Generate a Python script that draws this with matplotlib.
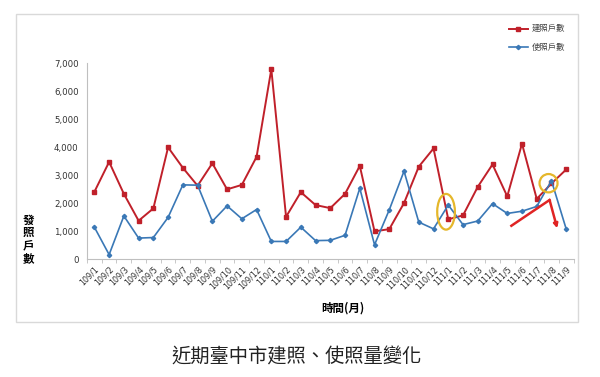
import matplotlib
matplotlib.use("Agg")
import matplotlib.pyplot as plt
from matplotlib.patches import Ellipse, Rectangle
from matplotlib.ticker import FuncFormatter, FixedLocator
import numpy as np

CJK = ["Noto Sans CJK TC", "DejaVu Sans"]

months = ["109/1", "109/2", "109/3", "109/4", "109/5", "109/6", "109/7", "109/8",
          "109/9", "109/10", "109/11", "109/12", "110/1", "110/2", "110/3", "110/4",
          "110/5", "110/6", "110/7", "110/8", "110/9", "110/10", "110/11", "110/12",
          "111/1", "111/2", "111/3", "111/4", "111/5", "111/6", "111/7", "111/8", "111/9"]
build = [2410, 3480, 2340, 1380, 1820, 4000, 3270, 2630, 3430, 2500, 2660, 3660,
         6790, 1520, 2400, 1940, 1830, 2340, 3340, 1000, 1080, 2010, 3310, 3960,
         1430, 1570, 2590, 3390, 2250, 4130, 2160, 2710, 3210]
usage = [1150, 170, 1550, 760, 780, 1500, 2660, 2650, 1360, 1910, 1450, 1780,
         640, 640, 1150, 670, 680, 860, 2540, 520, 1770, 3150, 1330, 1090,
         1940, 1240, 1370, 1990, 1640, 1720, 1890, 2810, 1080]
series_names = ["建照戶數", "使照戶數"]

# hand-drawn highlights on the original (data coords)
circles = [(23.85, 1700, 1.2, 1275), (30.8, 2720, 1.22, 655)]
arrow_line = ([28.28, 30.87], [1200, 2120])
arrow_tip = (31.39, 1110)

RED = "#c0202a"
BLUE = "#3a78b6"

fig = plt.figure(figsize=(6, 3.77), dpi=100)
fig.patches.append(Rectangle((0.026, 0.146), 0.937, 0.817, transform=fig.transFigure,
                             fill=False, edgecolor="#d9d9d9", lw=1.0, zorder=0))
ax = fig.add_axes([0.145, 0.312, 0.811, 0.52])

x = np.arange(len(months))
ax.plot(x, build, color=RED, lw=1.4, marker="s", ms=3.5, label=series_names[0])
ax.plot(x, usage, color=BLUE, lw=1.2, marker="D", ms=2.2, label=series_names[1])

for cx, cy, w, h in circles:
    ax.add_patch(Ellipse((cx, cy), w, h, fill=False, edgecolor="#e5b72b", lw=1.6, zorder=5))
ax.plot(*arrow_line, color="#e02424", lw=1.8, zorder=5)
ax.annotate("", xy=arrow_tip, xytext=(arrow_line[0][1], arrow_line[1][1]),
            arrowprops=dict(arrowstyle="-|>", color="#e02424", lw=1.8,
                            mutation_scale=6, shrinkA=0, shrinkB=0), zorder=5)

ax.set_xlim(-0.5, len(months) - 0.5)
ax.set_ylim(0, 7000)
ax.set_yticks(range(0, 7001, 1000))
ax.yaxis.set_major_formatter(FuncFormatter(lambda v, p: f"{int(v):,}"))
ax.set_xticks(x)
ax.set_xticklabels(months, rotation=45, ha="right", rotation_mode="anchor", fontsize=5.8,
                   color="#333333")
ax.xaxis.set_minor_locator(FixedLocator(np.arange(-0.5, len(months), 1)))
ax.tick_params(axis="x", which="major", length=0, pad=4)
ax.tick_params(axis="x", which="minor", length=3, color="#bfbfbf")
ax.tick_params(axis="y", length=0, labelsize=6.2, labelcolor="#333333", pad=6)
for s in ("top", "right"):
    ax.spines[s].set_visible(False)
for s in ("left", "bottom"):
    ax.spines[s].set_color("#bfbfbf")
    ax.spines[s].set_linewidth(0.8)

fig.text(0.048, 0.365, "發\n照\n戶\n數", family=CJK, fontsize=8.3, fontweight="bold",
         ha="center", va="center", linespacing=1.0)
fig.text(0.572, 0.183, "時間(月)", family=CJK, fontsize=8.3, fontweight="bold",
         ha="center", va="center")
fig.text(0.494, 0.053, "近期臺中市建照、使照量變化", family=CJK, fontsize=13.9,
         ha="center", va="center", color="#222222")

leg = fig.legend(loc="upper right", bbox_to_anchor=(0.955, 0.955), frameon=False,
                 prop={"family": CJK, "size": 6}, handlelength=2.3, labelspacing=1.15,
                 handletextpad=0.5)
for t in leg.get_texts():
    t.set_color("#444444")

fig.savefig("out.png", dpi=100)
